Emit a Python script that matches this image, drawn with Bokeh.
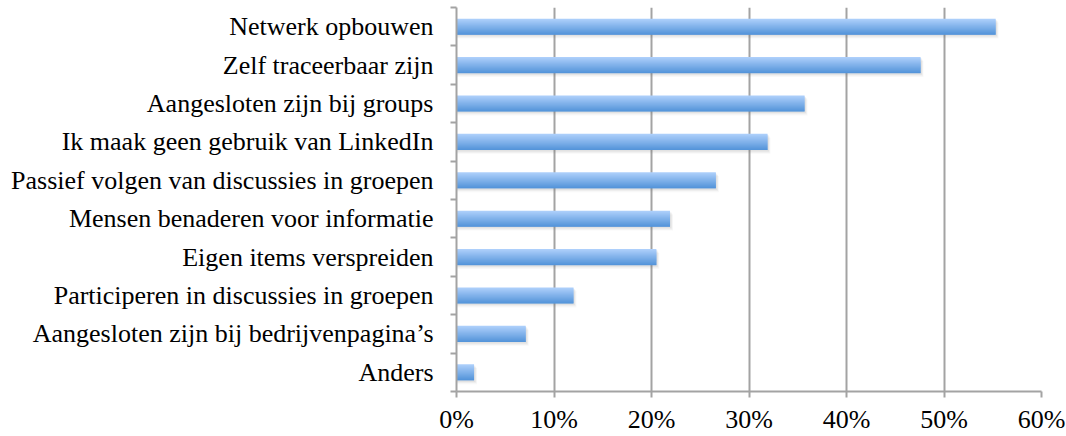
from bokeh.plotting import figure
from bokeh.models import (FactorRange, Range1d, LinearAxis, FixedTicker,
                          NumeralTickFormatter, ColumnDataSource)
from bokeh.transform import dodge
from bokeh.embed import file_html
from bokeh.resources import INLINE

# ---- data (top to bottom as in the chart) ----
categories = [
    "Netwerk opbouwen",
    "Zelf traceerbaar zijn",
    "Aangesloten zijn bij groups",
    "Ik maak geen gebruik van LinkedIn",
    "Passief volgen van discussies in groepen",
    "Mensen benaderen voor informatie",
    "Eigen items verspreiden",
    "Participeren in discussies in groepen",
    "Aangesloten zijn bij bedrijvenpagina\u2019s",
    "Anders",
]
values = [0.553, 0.476, 0.357, 0.319, 0.266, 0.219, 0.205, 0.120, 0.071, 0.018]
x_ticks = [0.0, 0.1, 0.2, 0.3, 0.4, 0.5, 0.6]

# bottom-to-top order for the categorical range
factors = list(reversed(categories))
vals_bt = list(reversed(values))
n = len(factors)

src = ColumnDataSource(dict(cat=factors, val=vals_bt))

FONT = "Liberation Serif"
GRID = "#a3a3a3"

p = figure(width=1066, height=436, output_backend="svg", toolbar_location=None,
           y_range=FactorRange(factors=factors), x_range=Range1d(0, 0.6),
           y_axis_location=None, min_border_left=456, min_border_right=25,
           min_border_top=7, min_border_bottom=42)
p.outline_line_color = None
p.background_fill_color = "white"
p.border_fill_color = "white"

# axis on the categorical range's synthetic coordinates:
# labels at band centres, small ticks at band boundaries
centers = [i + 0.5 for i in range(n)]
bounds = [float(i) for i in range(n + 1)]
yax = LinearAxis(ticker=FixedTicker(ticks=centers, minor_ticks=bounds))
yax.major_label_overrides = {c: f for c, f in zip(centers, factors)}
yax.major_tick_line_color = None
yax.major_tick_out = 0
yax.major_tick_in = 0
yax.minor_tick_line_color = GRID
yax.minor_tick_line_width = 2
yax.minor_tick_out = 6
yax.minor_tick_in = 0
yax.axis_line_color = GRID
yax.axis_line_width = 2
yax.major_label_standoff = 17
yax.major_label_text_font = FONT
yax.major_label_text_font_size = "26px"
yax.major_label_text_color = "black"
p.add_layout(yax, "left")

# x axis
xax = p.xaxis[0]
xax.ticker = FixedTicker(ticks=x_ticks)
xax.formatter = NumeralTickFormatter(format="0%")
xax.axis_line_color = GRID
xax.axis_line_width = 2
xax.major_tick_line_color = GRID
xax.major_tick_line_width = 2
xax.major_tick_out = 6
xax.major_tick_in = 0
xax.minor_tick_line_color = None
xax.major_label_standoff = 7
xax.major_label_text_font = FONT
xax.major_label_text_font_size = "26px"
xax.major_label_text_color = "black"

p.xgrid.ticker = FixedTicker(ticks=x_ticks)
p.xgrid.grid_line_color = GRID
p.xgrid.grid_line_width = 2
p.ygrid.visible = False

# bar geometry (style)
BAR_H = 0.42

# soft shadow below / right of each bar
for k, dx, a in [(0.10, 0.0030, 0.05), (0.07, 0.0022, 0.07), (0.04, 0.0014, 0.09)]:
    p.hbar(y=dodge("cat", -k, range=p.y_range), left=0,
           right=dodge("val", dx, range=p.x_range),
           height=BAR_H, source=src, fill_color="#707070", fill_alpha=a,
           line_color=None)

# gradient bars built from thin slices
top_rgb = (0xAD, 0xCF, 0xFB)
bot_rgb = (0x55, 0x95, 0xDA)
slices = 16
sh = BAR_H / slices
for i in range(slices):
    t = i / (slices - 1)
    r = int(top_rgb[0] + (bot_rgb[0] - top_rgb[0]) * t)
    g = int(top_rgb[1] + (bot_rgb[1] - top_rgb[1]) * t)
    b = int(top_rgb[2] + (bot_rgb[2] - top_rgb[2]) * t)
    h = sh if i == slices - 1 else sh * 1.8
    off = BAR_H / 2 - i * sh - h / 2
    p.hbar(y=dodge("cat", off, range=p.y_range), left=0, right="val",
           height=h, source=src, fill_color=f"#{r:02x}{g:02x}{b:02x}",
           line_color=None)

open("out.html", "w").write(file_html(p, INLINE))
